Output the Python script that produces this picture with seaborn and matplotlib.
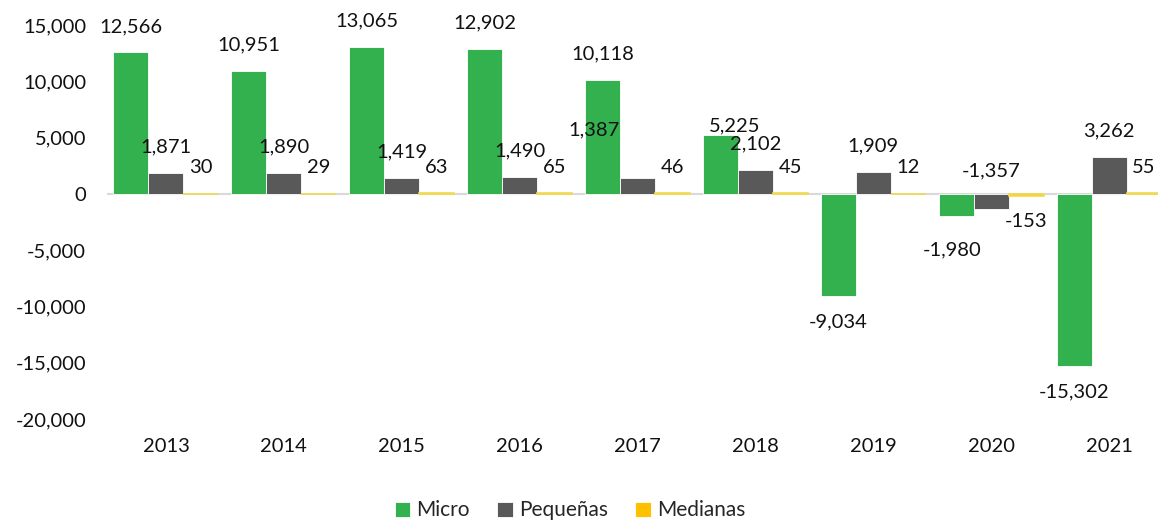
import pandas as pd
import seaborn as sns
import matplotlib.pyplot as plt
from matplotlib.ticker import FuncFormatter

# data
years = ["2013", "2014", "2015", "2016", "2017", "2018", "2019", "2020", "2021"]
series = ["Micro", "Pequeñas", "Medianas"]
micro = [12566, 10951, 13065, 12902, 10118, 5225, -9034, -1980, -15302]
pequenas = [1871, 1890, 1419, 1490, 1387, 2102, 1909, -1357, 3262]
medianas = [30, 29, 63, 65, 46, 45, 12, -153, 55]
colors = ["#33B14F", "#595959", "#FFC000"]

df = pd.DataFrame({
    "year": years * 3,
    "serie": [s for s in series for _ in years],
    "value": micro + pequenas + medianas,
})

# label nudges (pixels) where Excel moved a label off its default spot
nudges = {
    ("2017", "Pequeñas"): (-44, 48),
    ("2018", "Micro"): (14, 9),
    ("2020", "Pequeñas"): (0, 38),
    ("2020", "Micro"): (-4, -34),
}

sns.set_style("white")
plt.rcParams["font.family"] = ["Lato", "DejaVu Sans"]

fig = plt.figure(figsize=(11.58, 5.21), dpi=100)
ax = fig.add_axes([107 / 1158, 1 - 419 / 521, 1061 / 1158, 394 / 521])

sns.barplot(data=df, x="year", y="value", hue="serie", hue_order=series,
            palette=colors, width=0.89, saturation=1, ax=ax,
            edgecolor="white", linewidth=0.6)

# yellow bars are nearly flat: give them a yellow outline so they show
for p in ax.containers[2]:
    p.set_edgecolor("#F2D94E")
    p.set_linewidth(1.2)

ax.axhline(0, color="#D9D9D9", lw=1.5, zorder=0.5)
ax.set_ylim(-20000, 15000)
ax.set_xlim(-0.5, 8.5)
ax.set_yticks(range(-20000, 15001, 5000))
ax.yaxis.set_major_formatter(FuncFormatter(lambda v, _: f"{v:,.0f}"))
ax.set_xlabel("")
ax.set_ylabel("")
ax.tick_params(axis="y", length=0, pad=15, labelsize=14.5, labelcolor="#111111")
ax.tick_params(axis="x", length=0, pad=14, labelsize=14.5, labelcolor="#111111")
for s in ax.spines.values():
    s.set_visible(False)

# data labels
for serie, cont in zip(series, ax.containers):
    for year, bar in zip(years, cont):
        val = df[(df.year == year) & (df.serie == serie)].value.iloc[0]
        x = bar.get_x() + bar.get_width() / 2
        dx, dy = nudges.get((year, serie), (0, 26 if val >= 0 else -26))
        ax.annotate(f"{val:,}", (x, val), xytext=(dx, dy),
                    textcoords="offset pixels", ha="center", va="center",
                    fontsize=14.5, color="#111111")

handles, labels = ax.get_legend_handles_labels()
ax.legend_.remove()
fig.legend(handles, labels, loc="lower center", bbox_to_anchor=(570 / 1158, -0.035),
           ncol=3, frameon=False, fontsize=15, handlelength=0.75,
           handleheight=0.75, handletextpad=0.3, columnspacing=1.3)

fig.savefig("out.png", dpi=100)
